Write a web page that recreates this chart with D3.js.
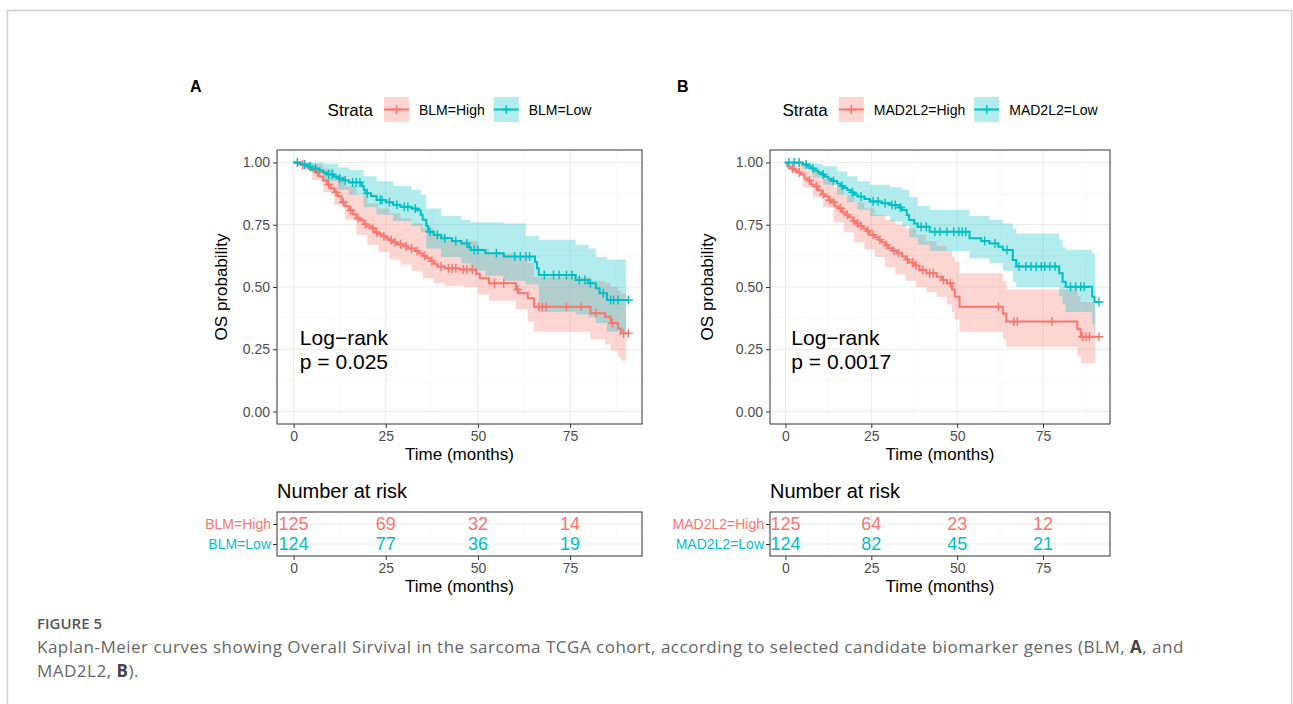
<!DOCTYPE html>
<html lang="en">
<head>
<meta charset="UTF-8" />
<title>Kaplan-Meier curves, sarcoma TCGA</title>
<script src="https://d3js.org/d3.v7.min.js"></script>
<style>
  body { margin: 0; background: #fff; }
  svg { display: block; font-family: "Liberation Sans", Arial, Helvetica, sans-serif; }
  .grid-major { stroke: #ebebeb; stroke-width: 1; }
  .grid-minor { stroke: #f3f3f3; stroke-width: 0.6; }
  .frame { fill: none; stroke: #333; stroke-width: 1; }
  .axis .domain { display: none; }
  .axis line { stroke: #333; }
  .axis text { fill: #4d4d4d; font-size: 14px; font-family: "Liberation Sans", Arial, sans-serif; }
  .caption { font-family: "Open Sans", sans-serif; fill: #666; }
</style>
</head>
<body>
<svg width="1293" height="704"></svg>
<script>
// ---- data ----
const timeTicks = [0, 25, 50, 75];
const minorTimeTicks = [12.5, 37.5, 62.5, 87.5];
const survTicks = [0, 0.25, 0.5, 0.75, 1];
const minorSurvTicks = [0.125, 0.375, 0.625, 0.875];
const riskTimes = [0, 25, 50, 75];

// BLM (panel A): steps [time, survival], ci [time, lower, upper], censor times
const blmHighSteps = [[0,1],[1.5,0.992],[3,0.984],[4,0.976],[5,0.968],[6,0.96],[7,0.944],[8,0.928],[9,0.912],[10,0.896],[11,0.88],[12,0.864],[13,0.84],[14,0.824],[15,0.808],[16,0.792],[17,0.776],[18,0.768],[19,0.752],[20,0.744],[21,0.736],[22,0.72],[23,0.712],[24,0.704],[25,0.696],[26,0.688],[27,0.68],[28,0.672],[30,0.664],[31,0.655],[33,0.645],[34,0.635],[35,0.625],[36,0.615],[37,0.604],[38,0.593],[39,0.582],[41,0.575],[45,0.57],[49.5,0.552],[50.5,0.535],[53,0.515],[60.3,0.49],[61,0.475],[63.5,0.455],[65.2,0.421],[80.5,0.395],[84.5,0.381],[86,0.355],[88,0.333],[88.8,0.314],[90.8,0.314]];
const blmHighCI = [[0,1,1],[2,0.97,1],[5,0.93,0.995],[8,0.88,0.975],[11,0.83,0.945],[14,0.77,0.905],[17,0.71,0.87],[20,0.67,0.835],[23,0.64,0.815],[26,0.61,0.795],[29,0.59,0.775],[32,0.565,0.755],[35,0.535,0.735],[38,0.515,0.71],[41,0.505,0.69],[46,0.50,0.685],[50,0.47,0.655],[53,0.445,0.635],[60.3,0.41,0.615],[63.5,0.36,0.595],[65.2,0.32,0.54],[80.5,0.29,0.525],[84.5,0.27,0.515],[86,0.245,0.50],[88,0.22,0.485],[88.8,0.205,0.475],[90.2,0.205,0.475]];
const blmHighCensor = [2.5,6.5,9.5,11.5,13.5,15.5,17.5,19.5,21.5,22.5,24.5,26.5,27.5,29,30.5,32,33.5,35.5,37.5,40,42,43,44,46,47,48.5,54.5,57,60.8,66.5,67.5,68.5,74,78,82,86.5,89.5,90.8];

const blmLowSteps = [[0,1],[2,0.992],[4,0.984],[5,0.976],[7,0.968],[8,0.96],[9,0.952],[11,0.944],[12,0.936],[13.5,0.928],[15,0.92],[18.5,0.905],[19,0.89],[19.5,0.876],[21,0.865],[22.5,0.849],[25,0.84],[27,0.83],[29,0.822],[32,0.815],[33.5,0.808],[34.5,0.79],[35,0.77],[36,0.745],[36.5,0.722],[38,0.71],[40,0.696],[43,0.685],[45.5,0.675],[47.5,0.66],[48,0.649],[52,0.635],[57,0.622],[65.5,0.6],[66,0.575],[66.5,0.548],[76.5,0.528],[80,0.515],[82,0.495],[83,0.475],[85,0.448],[90.8,0.448]];
const blmLowCI = [[0,1,1],[4,0.965,1],[8,0.925,0.995],[12,0.89,0.98],[15,0.87,0.97],[19,0.82,0.945],[22.5,0.79,0.925],[27,0.765,0.905],[32,0.745,0.89],[34.5,0.72,0.87],[36,0.655,0.815],[40,0.62,0.785],[45.5,0.595,0.77],[48,0.565,0.76],[52,0.545,0.76],[57,0.525,0.755],[63,0.51,0.705],[66.5,0.40,0.69],[76.5,0.39,0.67],[80,0.38,0.655],[82,0.355,0.62],[85,0.32,0.61],[90.2,0.32,0.61]];
const blmLowCensor = [1,3,4.5,6,9.5,10.5,12.5,14,16,17,18,20,23.5,24,26,28,30,31,33,37,39,41,44,47,49,50,55,60,61.5,63,64,68,70.5,72,74,75.5,77.5,79,80.5,84,86,86.8,88,90.8];

// MAD2L2 (panel B)
const madHighSteps = [[0,1],[0.5,0.984],[1.5,0.976],[2.5,0.968],[3.5,0.96],[4.5,0.952],[5.5,0.936],[6.5,0.928],[7.5,0.912],[8.5,0.904],[9.5,0.888],[10.5,0.872],[11.5,0.864],[12.5,0.848],[13.5,0.84],[14.5,0.824],[15.5,0.816],[16.5,0.80],[17.5,0.79],[18.5,0.78],[19.5,0.765],[20.5,0.755],[21.5,0.745],[22.5,0.735],[23.5,0.725],[24.5,0.71],[26,0.70],[27,0.69],[28,0.68],[29,0.668],[30,0.657],[31,0.646],[32.5,0.635],[34,0.622],[35,0.61],[36,0.598],[37.5,0.586],[39,0.568],[41,0.555],[44,0.541],[45.5,0.528],[47,0.515],[48.5,0.49],[49.3,0.461],[50.7,0.421],[63.3,0.394],[64.3,0.361],[85,0.33],[86,0.3],[91.3,0.3]];
const madHighCI = [[0,1,1],[2,0.96,1],[5,0.90,0.99],[8,0.86,0.965],[11,0.82,0.935],[14,0.76,0.90],[17,0.72,0.87],[20,0.68,0.84],[23,0.65,0.815],[26,0.62,0.79],[29,0.58,0.77],[32,0.55,0.75],[35,0.525,0.735],[38,0.50,0.71],[41,0.48,0.685],[44,0.46,0.665],[47,0.43,0.645],[48.5,0.40,0.62],[49.3,0.37,0.60],[50.7,0.32,0.555],[63.3,0.29,0.525],[64.3,0.26,0.49],[85,0.22,0.465],[86,0.195,0.44],[90.2,0.195,0.44]];
const madHighCensor = [2,4,7,9,11,13,14,16,18,20,21,22,24,25.5,27.5,29.5,31.5,33,35.5,37,38,40,42,43,46,48,62,66.5,67.5,77.6,86.5,87.5,88.5,91.3];

const madLowSteps = [[0,1],[5,0.992],[6.5,0.984],[7.5,0.976],[8.5,0.968],[9.5,0.96],[10.5,0.952],[11.5,0.943],[12.5,0.935],[13.5,0.926],[15,0.916],[16,0.906],[17,0.897],[18,0.889],[19,0.88],[20,0.871],[21,0.863],[23,0.853],[24.6,0.843],[28,0.836],[30.5,0.829],[33,0.819],[34,0.809],[35.3,0.789],[36,0.769],[37.5,0.755],[38.5,0.742],[42,0.722],[53.6,0.696],[57,0.685],[59.4,0.675],[62,0.662],[63.3,0.649],[66.2,0.608],[67.2,0.582],[79.7,0.555],[80.7,0.521],[81.6,0.501],[89.3,0.461],[90,0.44],[91.3,0.44]];
const madLowCI = [[0,1,1],[5,0.975,1],[8,0.94,0.995],[11,0.91,0.985],[15,0.87,0.965],[18,0.84,0.945],[21,0.81,0.925],[24.6,0.785,0.91],[30.5,0.765,0.90],[34,0.745,0.89],[36,0.70,0.86],[38.5,0.67,0.825],[42,0.645,0.81],[53.6,0.615,0.785],[59.4,0.595,0.77],[63.3,0.565,0.755],[66.2,0.52,0.735],[67.2,0.50,0.715],[79.7,0.465,0.69],[80.7,0.43,0.66],[81.6,0.40,0.65],[89.3,0.35,0.635],[90,0.32,0.63],[90.2,0.32,0.63]];
const madLowCensor = [1,2.5,4,6,8,11,14,16.5,19.5,22,25.5,27,29,31,32,33.5,39.5,41,43.5,45,47,49,50.5,51.5,52.5,58,61,64.5,68,70,71.5,73,74.5,75.5,77,78.5,83,84.5,86,87,91.3];

// number at risk at riskTimes
const blmRiskHigh = [125, 69, 32, 14];
const blmRiskLow = [124, 77, 36, 19];
const madRiskHigh = [125, 64, 23, 12];
const madRiskLow = [124, 82, 45, 21];

const red = "#F8766D", teal = "#00BFC4";

const panels = [
  { letter: "A", letterX: 190, left: 277, right: 642, yTitleX: 221.5, pText: "p = 0.025",
    groups: [
      { label: "BLM=High", color: red, steps: blmHighSteps, ci: blmHighCI, censor: blmHighCensor, risk: blmRiskHigh },
      { label: "BLM=Low", color: teal, steps: blmLowSteps, ci: blmLowCI, censor: blmLowCensor, risk: blmRiskLow }
    ] },
  { letter: "B", letterX: 677, left: 770, right: 1110, yTitleX: 707, pText: "p = 0.0017",
    groups: [
      { label: "MAD2L2=High", color: red, steps: madHighSteps, ci: madHighCI, censor: madHighCensor, risk: madRiskHigh },
      { label: "MAD2L2=Low", color: teal, steps: madLowSteps, ci: madLowCI, censor: madLowCensor, risk: madRiskLow }
    ] }
];

const plotTop = 150, plotBottom = 424;
const riskTop = 512, riskBottom = 556;

const svg = d3.select("svg");

// outer figure frame
svg.append("rect")
  .attr("x", 7.5).attr("y", 10.5).attr("width", 1284).attr("height", 720)
  .attr("fill", "none").attr("stroke", "#d0d0d0").attr("stroke-width", 1.5);

const plus = (s) => `M${-s},0H${s}M0,${-s}V${s}`;

function survAt(steps, t) {
  let s = steps[0][1];
  for (const d of steps) { if (d[0] <= t) s = d[1]; else break; }
  return s;
}

panels.forEach((p) => {
  const x = d3.scaleLinear().domain([-4.5, 94.5]).range([p.left, p.right]);
  const y = d3.scaleLinear().domain([-0.05, 1.05]).range([plotBottom, plotTop]);
  const g = svg.append("g");

  // panel letter
  g.append("text").attr("x", p.letterX).attr("y", 92)
    .attr("font-size", 16).attr("font-weight", "bold").text(p.letter);

  // grid
  g.selectAll(".vminor").data(minorTimeTicks).enter().append("line").attr("class", "grid-minor")
    .attr("x1", (d) => x(d)).attr("x2", (d) => x(d)).attr("y1", plotTop).attr("y2", plotBottom);
  g.selectAll(".hminor").data(minorSurvTicks).enter().append("line").attr("class", "grid-minor")
    .attr("x1", p.left).attr("x2", p.right).attr("y1", (d) => y(d)).attr("y2", (d) => y(d));
  g.selectAll(".vmajor").data(timeTicks).enter().append("line").attr("class", "grid-major")
    .attr("x1", (d) => x(d)).attr("x2", (d) => x(d)).attr("y1", plotTop).attr("y2", plotBottom);
  g.selectAll(".hmajor").data(survTicks).enter().append("line").attr("class", "grid-major")
    .attr("x1", p.left).attr("x2", p.right).attr("y1", (d) => y(d)).attr("y2", (d) => y(d));

  // confidence ribbons
  const area = d3.area().x((d) => x(d[0])).y0((d) => y(d[1])).y1((d) => y(d[2])).curve(d3.curveStepAfter);
  p.groups.forEach((grp) => {
    g.append("path").attr("d", area(grp.ci)).attr("fill", grp.color).attr("fill-opacity", 0.3);
  });

  // survival curves and censor marks
  const line = d3.line().x((d) => x(d[0])).y((d) => y(d[1])).curve(d3.curveStepAfter);
  p.groups.forEach((grp) => {
    g.append("path").attr("d", line(grp.steps)).attr("fill", "none")
      .attr("stroke", grp.color).attr("stroke-width", 2);
    g.selectAll(null).data(grp.censor).enter().append("path")
      .attr("d", plus(4.5))
      .attr("transform", (c) => `translate(${x(c)},${y(survAt(grp.steps, c))})`)
      .attr("stroke", grp.color).attr("stroke-width", 1.4).attr("fill", "none");
  });

  // panel border
  g.append("rect").attr("class", "frame")
    .attr("x", p.left).attr("y", plotTop).attr("width", p.right - p.left).attr("height", plotBottom - plotTop);

  // axes
  g.append("g").attr("class", "axis").attr("transform", `translate(${p.left},0)`)
    .call(d3.axisLeft(y).tickValues(survTicks).tickFormat(d3.format(".2f")).tickSize(4).tickPadding(3));
  g.append("g").attr("class", "axis").attr("transform", `translate(0,${plotBottom})`)
    .call(d3.axisBottom(x).tickValues(timeTicks).tickSize(4).tickPadding(3));

  const cx = (p.left + p.right) / 2;
  g.append("text").attr("x", cx).attr("y", 460).attr("text-anchor", "middle")
    .attr("font-size", 17).text("Time (months)");
  g.append("text")
    .attr("transform", `translate(${p.yTitleX},${(plotTop + plotBottom) / 2}) rotate(-90)`)
    .attr("dy", "0.35em").attr("text-anchor", "middle").attr("font-size", 17).text("OS probability");

  // log-rank annotation
  g.append("text").attr("x", x(1.7)).attr("y", 345).attr("font-size", 21).text("Log\u2212rank");
  g.append("text").attr("x", x(1.7)).attr("y", 369).attr("font-size", 21).text(p.pText);

  // legend
  const leg = g.append("g");
  let lx = 0;
  const t0 = leg.append("text").attr("x", lx).attr("y", 116).attr("font-size", 17).text("Strata");
  lx += t0.node().getComputedTextLength() + 11;
  p.groups.forEach((grp) => {
    leg.append("rect").attr("x", lx).attr("y", 97).attr("width", 25).attr("height", 25)
      .attr("fill", grp.color).attr("fill-opacity", 0.3);
    leg.append("line").attr("x1", lx).attr("x2", lx + 25).attr("y1", 109.5).attr("y2", 109.5)
      .attr("stroke", grp.color).attr("stroke-width", 2);
    leg.append("path").attr("d", plus(4.5)).attr("transform", `translate(${lx + 12.5},109.5)`)
      .attr("stroke", grp.color).attr("stroke-width", 1.4);
    lx += 25 + 10;
    const tl = leg.append("text").attr("x", lx).attr("y", 115).attr("font-size", 14).text(grp.label);
    lx += tl.node().getComputedTextLength() + 9;
  });
  lx -= 9;
  leg.attr("transform", `translate(${cx - lx / 2},0)`);

  // ---- risk table ----
  const ry = d3.scalePoint().domain(p.groups.map((d) => d.label)).range([riskTop, riskBottom]).padding(0.6);
  const rg = svg.append("g");
  rg.append("text").attr("x", p.left).attr("y", 498).attr("font-size", 20).text("Number at risk");

  rg.selectAll(".rvminor").data(minorTimeTicks).enter().append("line").attr("class", "grid-minor")
    .attr("x1", (d) => x(d)).attr("x2", (d) => x(d)).attr("y1", riskTop).attr("y2", riskBottom);
  rg.selectAll(".rvmajor").data(timeTicks).enter().append("line").attr("class", "grid-major")
    .attr("x1", (d) => x(d)).attr("x2", (d) => x(d)).attr("y1", riskTop).attr("y2", riskBottom);
  rg.selectAll(".rhmajor").data(p.groups).enter().append("line").attr("class", "grid-major")
    .attr("x1", p.left).attr("x2", p.right).attr("y1", (d) => ry(d.label)).attr("y2", (d) => ry(d.label));

  p.groups.forEach((grp) => {
    rg.selectAll(null).data(riskTimes).enter().append("text")
      .attr("x", (t) => x(t)).attr("y", ry(grp.label)).attr("dy", "0.36em")
      .attr("text-anchor", "middle").attr("font-size", 18).attr("fill", grp.color)
      .text((t, i) => grp.risk[i]);
  });

  rg.append("rect").attr("class", "frame")
    .attr("x", p.left).attr("y", riskTop).attr("width", p.right - p.left).attr("height", riskBottom - riskTop);

  const ya = rg.append("g").attr("class", "axis").attr("transform", `translate(${p.left},0)`)
    .call(d3.axisLeft(ry).tickSize(4).tickPadding(2));
  ya.selectAll("text").style("fill", (d) => p.groups.find((k) => k.label === d).color);
  rg.append("g").attr("class", "axis").attr("transform", `translate(0,${riskBottom})`)
    .call(d3.axisBottom(x).tickValues(timeTicks).tickSize(4).tickPadding(3));
  rg.append("text").attr("x", cx).attr("y", 592).attr("text-anchor", "middle")
    .attr("font-size", 17).text("Time (months)");
});

// caption
const cap = svg.append("g").attr("class", "caption");
cap.append("text").attr("x", 37).attr("y", 629).attr("font-size", 15).attr("font-weight", 600)
  .attr("fill", "#555").text("FIGURE 5");
const l1 = cap.append("text").attr("x", 37).attr("y", 653).attr("font-size", 17).attr("letter-spacing", 0.5);
l1.append("tspan").text("Kaplan-Meier curves showing Overall Sirvival in the sarcoma TCGA cohort, according to selected candidate biomarker genes (BLM, ");
l1.append("tspan").attr("font-weight", "bold").attr("fill", "#444").text("A");
l1.append("tspan").text(", and");
const l2 = cap.append("text").attr("x", 37).attr("y", 677).attr("font-size", 17).attr("letter-spacing", 0.5);
l2.append("tspan").text("MAD2L2, ");
l2.append("tspan").attr("font-weight", "bold").attr("fill", "#444").text("B");
l2.append("tspan").text(").");
</script>
</body>
</html>
